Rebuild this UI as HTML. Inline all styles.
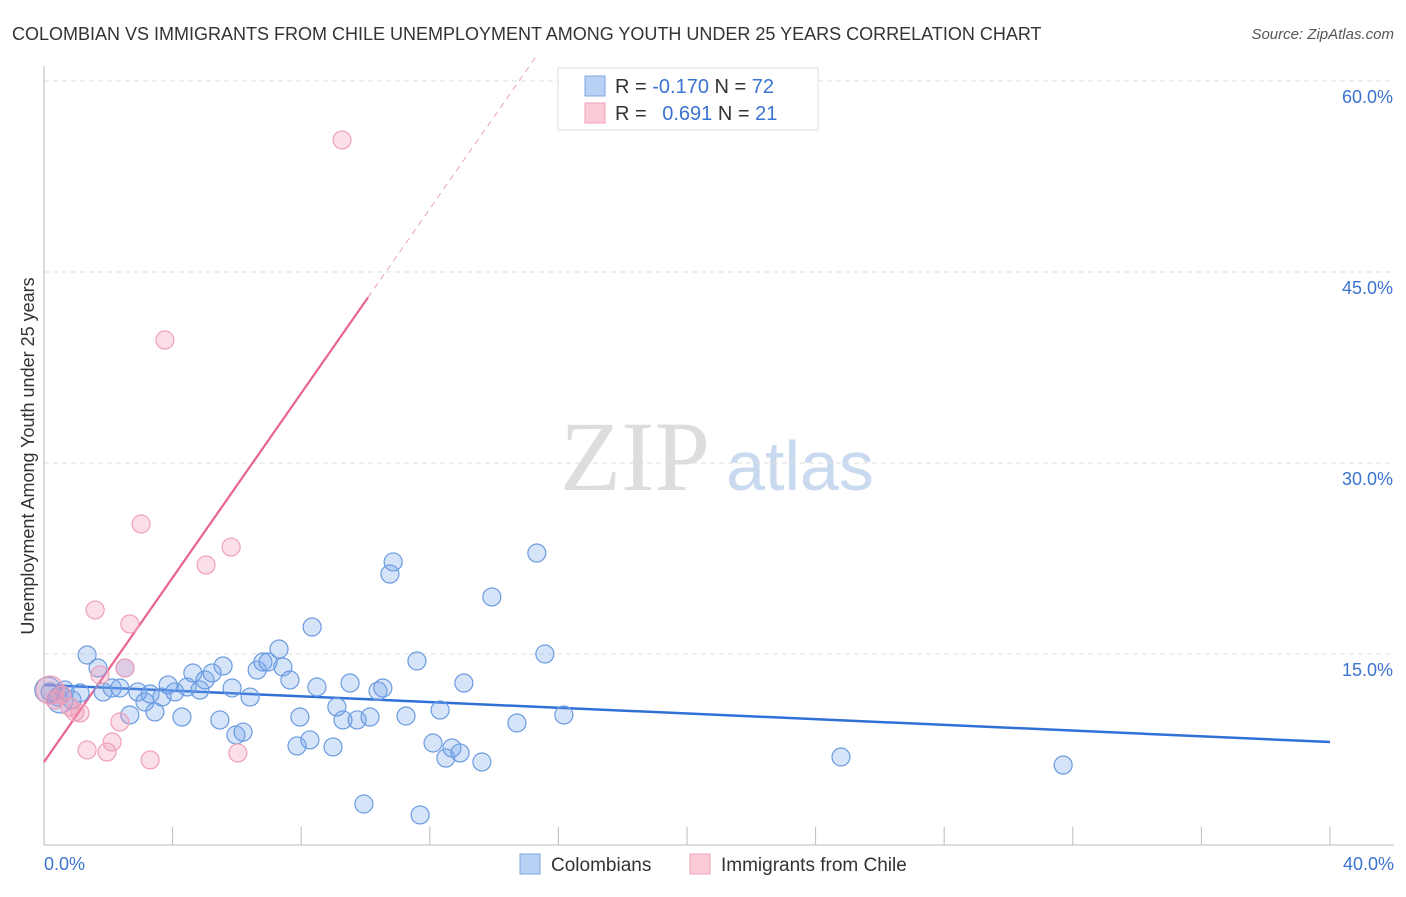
<!DOCTYPE html>
<html><head><meta charset="utf-8"><style>
body{margin:0;background:#fff;font-family:"Liberation Sans",sans-serif;}
</style></head><body>
<svg id="chart" width="1406" height="892" xmlns="http://www.w3.org/2000/svg" font-family="Liberation Sans, sans-serif">
<text x="12" y="40" font-size="18" fill="#333">COLOMBIAN VS IMMIGRANTS FROM CHILE UNEMPLOYMENT AMONG YOUTH UNDER 25 YEARS CORRELATION CHART</text>
<text x="1394" y="39" font-size="15" fill="#555" text-anchor="end" font-style="italic">Source: ZipAtlas.com</text>
<text transform="translate(34,456) rotate(-90)" font-size="18" fill="#333" text-anchor="middle">Unemployment Among Youth under 25 years</text>
<g>
<text x="635" y="490" font-size="100" fill="#ddd" text-anchor="middle" font-family="Liberation Serif, serif">ZIP</text>
<text x="800" y="490" font-size="70" fill="#c9d9ef" text-anchor="middle">atlas</text>
</g>
<g id="grid"></g><g id="axes"></g><g id="lines"></g><g id="pts"></g>
<g>
<rect x="558" y="68" width="260" height="62" fill="#fff" stroke="#ddd"/>
<rect x="585" y="76" width="20" height="20" fill="#b8d0f4" stroke="#7ea6e0"/>
<rect x="585" y="103" width="20" height="20" fill="#fbcbd8" stroke="#f0a0b8"/>
<text x="615" y="93" font-size="20" fill="#333">R = <tspan fill="#3b73d1">-0.170</tspan>   N = <tspan fill="#3b73d1">72</tspan></text>
<text x="615" y="120" font-size="20" fill="#333">R = <tspan fill="#3b73d1" dx="10">0.691</tspan>   N = <tspan fill="#3b73d1">21</tspan></text>
</g>
<g>
<rect x="520" y="854" width="20" height="20" fill="#b8d0f4" stroke="#7ea6e0"/>
<text x="551" y="871" font-size="19" fill="#333">Colombians</text>
<rect x="690" y="854" width="20" height="20" fill="#fbcbd8" stroke="#f0a0b8"/>
<text x="721" y="871" font-size="19" fill="#333">Immigrants from Chile</text>
</g>
</svg>
<script>
const yTicks=[15,30,45,60];
const yTickLabels=["15.0%","30.0%","45.0%","60.0%"];
const xTickLabels=["0.0%","40.0%"];
const blueX=[0.19,0.44,0.65,0.87,1.12,1.34,1.68,1.84,2.12,2.36,2.52,2.67,2.92,3.14,3.30,3.45,3.67,3.86,4.07,4.29,4.45,4.63,4.85,5.01,5.23,5.47,5.57,5.85,5.97,6.19,6.41,6.63,6.81,6.97,7.31,7.43,7.65,7.87,7.96,8.27,8.34,8.49,8.99,9.11,9.30,9.52,9.74,9.95,10.14,10.39,10.54,10.76,10.86,11.26,11.60,11.70,12.10,12.32,12.50,12.69,12.94,13.06,13.62,13.93,14.71,15.33,15.58,16.17,24.79,31.70,0.50,0.12];
const blueY=[12.02,11.62,12.17,11.39,11.94,14.92,13.90,12.02,12.33,12.33,13.90,10.21,12.02,11.23,11.86,10.45,11.62,12.57,12.02,10.05,12.41,13.51,12.17,12.96,13.51,9.82,14.06,12.33,8.64,8.87,11.62,13.74,14.37,14.37,15.39,13.98,12.96,7.78,10.05,8.25,17.12,12.41,7.70,10.84,9.82,12.72,9.82,3.22,10.05,12.09,12.33,21.28,22.23,10.13,14.45,2.36,8.01,10.60,6.83,7.62,7.23,12.72,6.52,19.48,9.58,22.93,15.00,10.21,6.91,6.28,11.39,12.17];
const pinkX=[0.19,0.34,0.56,0.81,0.96,1.12,1.34,1.59,1.74,1.96,2.12,2.36,2.52,2.67,3.02,3.30,3.76,5.04,5.82,6.03,9.27];
const pinkY=[12.17,11.39,11.78,10.84,10.45,10.37,7.46,18.46,13.35,7.30,8.09,9.66,13.90,17.36,25.21,6.68,39.66,21.99,23.40,7.23,55.37];
const blueTrend=[12.57,-0.112];
const pinkTrend=[6.52,3.62];
const NS="http://www.w3.org/2000/svg";
const X0=44,X1=1330,Y0=845,YT=81;
const sx=v=>X0+v/40*(X1-X0);
const sy=v=>Y0-v/60*(Y0-YT);
function mk(tag,at,parent){const e=document.createElementNS(NS,tag);for(const k in at)e.setAttribute(k,at[k]);document.getElementById(parent).appendChild(e);return e;}
yTicks.forEach((t,i)=>{
 const g=mk('line',{x1:X0,x2:1394,y1:sy(t),y2:sy(t),stroke:'#ddd','stroke-dasharray':'5,4'},'grid');
 
 
 const l=mk('text',{x:1393,y:sy(t)+22,'font-size':18,fill:'#3b73d1','text-anchor':'end'},'grid');
 l.textContent=yTickLabels[i];
 
 
});
const ya=mk('line',{x1:X0,x2:X0,y1:66,y2:Y0,stroke:'#bbb'},'axes');


const xa=mk('line',{x1:X0,x2:1394,y1:Y0,y2:Y0,stroke:'#bbb'},'axes');


for(let v=4;v<=40;v+=4){const tk=mk('line',{x1:sx(v),x2:sx(v),y1:Y0,y2:Y0-18,stroke:'#bbb'},'axes');
 
 }
[[0,'start',44],[40,'end',1394]].forEach((a,i)=>{const t=mk('text',{x:a[2],y:870,'font-size':18,fill:'#3b73d1','text-anchor':a[1]},'axes');t.textContent=xTickLabels[i];
 
 });
const bl=mk('line',{x1:sx(0),y1:sy(blueTrend[0]),x2:sx(40),y2:sy(blueTrend[0]+blueTrend[1]*40),stroke:'#2f6fd6','stroke-width':2.5},'lines');


const pe=10.08, pd=(62-pinkTrend[0])/pinkTrend[1];
const pl=mk('line',{x1:sx(0),y1:sy(pinkTrend[0]),x2:sx(pe),y2:sy(pinkTrend[0]+pinkTrend[1]*pe),stroke:'#e8648e','stroke-width':2.2},'lines');


const pdl=mk('line',{x1:sx(pe),y1:sy(pinkTrend[0]+pinkTrend[1]*pe),x2:sx(pd),y2:sy(62),stroke:'#eaa0b6','stroke-width':1,'stroke-dasharray':'6,5'},'lines');


blueX.forEach((x,i)=>{const c=mk('circle',{cx:sx(x),cy:sy(blueY[i]),r:i>=70?13:9,fill:'rgba(120,165,235,0.3)',stroke:'#6a9be0','stroke-width':1.2},'pts');
 
 });
pinkX.forEach((x,i)=>{const c=mk('circle',{cx:sx(x),cy:sy(pinkY[i]),r:i<1?14:9,fill:'rgba(240,150,180,0.3)',stroke:'#f0a0b8','stroke-width':1.2},'pts');
 
 });
</script>
</body></html>
